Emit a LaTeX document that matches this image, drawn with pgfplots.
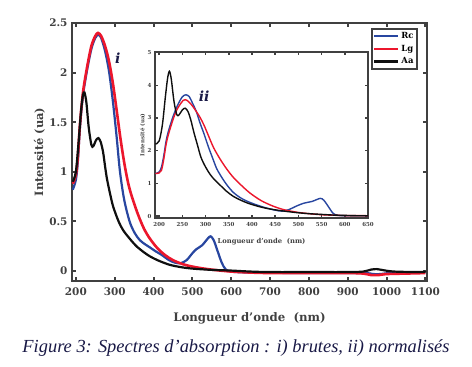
\documentclass[border=0pt]{standalone}
\usepackage{fontspec}
\usepackage{pgfplots}
\pgfplotsset{compat=1.18}
\usetikzlibrary{calc}
\newfontfamily\capfont{Liberation Serif}
\newfontfamily\lbl{DejaVu Serif}
\definecolor{cRc}{RGB}{40,70,160}
\definecolor{cLg}{RGB}{236,22,44}
\definecolor{cAa}{RGB}{15,15,15}
\definecolor{frame}{RGB}{64,64,64}
\definecolor{navy}{RGB}{25,25,70}

\begin{document}
\begin{tikzpicture}
\begin{axis}[name=main, scale only axis, width=355bp, height=258bp,
  xmin=190, xmax=1104, ymin=-0.1, ymax=2.5,
  xtick={200,300,400,500,600,700,800,900,1000,1100},
  ytick={0,0.5,1,1.5,2,2.5},
  /pgf/number format/1000 sep={},
  /pgf/number format/assume math mode=true,
  scaled ticks=false,
  tick align=inside, major tick length=4bp,
  every tick/.style={frame, line width=2bp},
  axis line style={frame, line width=2.4bp},
  ticklabel style={font=\lbl\bfseries\fontsize{10.5}{12}\selectfont, text=frame},
  xticklabel style={yshift=-3bp},
  yticklabel style={xshift=-1bp},
  xlabel={Longueur d’onde~~(nm)},
  ylabel={Intensité (ua)},
  xlabel style={at={(axis description cs:0.5,-0.145)}, anchor=center, font=\lbl\bfseries\fontsize{11.8}{13}\selectfont, text=frame},
  ylabel style={at={(axis description cs:-0.092,0.5)}, anchor=center, rotate=0, font=\lbl\bfseries\fontsize{11.5}{13}\selectfont, text=frame},
  legend style={at={(0.975,0.981)}, anchor=north east, draw=frame, line width=2bp,
     font=\lbl\bfseries\fontsize{8.5}{10}\selectfont, inner sep=1.5pt, row sep=1pt},
  legend cell align=left,
  legend image code/.code={\draw[#1, line width=2.4bp] (0bp,0bp) -- (24bp,0bp);},
]
\addplot[cRc, line width=2.2bp, smooth, tension=0.5] coordinates {
(192,0.82) (200,0.92) (205,1.1) (210,1.42) (215,1.65) (220,1.82) (230,2.05) (240,2.24) (250,2.35) (258,2.38) (265,2.35) (275,2.22) (285,2.02) (295,1.72) (305,1.35) (313,1.02) (322,0.77) (330,0.62) (340,0.48) (352,0.38) (365,0.31) (380,0.265) (390,0.24) (405,0.2) (420,0.165) (440,0.11) (455,0.085) (470,0.08) (485,0.11) (500,0.18) (510,0.22) (525,0.26) (540,0.33) (547,0.35) (555,0.31) (565,0.2) (575,0.09) (585,0.02) (600,-0.005) (650,-0.015) (800,-0.02) (940,-0.02) (965,-0.03) (985,-0.03) (1010,-0.02) (1100,-0.015)};
\addlegendentry{Rc}
\addplot[cLg, line width=2.6bp, smooth, tension=0.5] coordinates {
(192,0.88) (200,0.97) (205,1.15) (210,1.45) (215,1.68) (220,1.85) (230,2.08) (240,2.27) (250,2.37) (257,2.40) (265,2.37) (275,2.27) (285,2.12) (295,1.90) (305,1.62) (315,1.33) (325,1.08) (335,0.88) (345,0.74) (360,0.57) (375,0.43) (390,0.33) (410,0.23) (430,0.16) (450,0.11) (475,0.07) (500,0.045) (530,0.025) (560,0.01) (600,-0.005) (650,-0.015) (700,-0.02) (800,-0.02) (900,-0.02) (940,-0.025) (960,-0.04) (980,-0.04) (1000,-0.03) (1050,-0.025) (1100,-0.02)};
\addlegendentry{Lg}
\addplot[cAa, line width=2.2bp, smooth, tension=0.5] coordinates {
(192,0.9) (200,1.0) (207,1.3) (213,1.6) (218,1.77) (222,1.80) (227,1.7) (233,1.45) (240,1.27) (245,1.26) (252,1.32) (258,1.34) (264,1.3) (270,1.2) (275,1.06) (280,0.93) (288,0.78) (296,0.65) (310,0.5) (322,0.41) (340,0.32) (356,0.25) (375,0.19) (390,0.15) (410,0.11) (440,0.065) (470,0.04) (500,0.025) (550,0.012) (600,0.005) (650,-0.005) (700,-0.01) (800,-0.01) (900,-0.01) (940,-0.005) (960,0.015) (975,0.02) (990,0.01) (1020,-0.005) (1090,-0.01) (1100,0.0)};
\addlegendentry{Aa}
\node[font=\lbl\bfseries\itshape\fontsize{14}{14}\selectfont, text=navy] at (axis cs:308,2.15) {i};
\end{axis}

\begin{axis}[name=inset, at={($(main.south west)+(83bp,63bp)$)}, anchor=south west,
  scale only axis, width=213bp, height=166bp,
  xmin=191, xmax=650, ymin=-0.06, ymax=5.02,
  xtick={200,250,300,350,400,450,500,550,600,650},
  ytick={0,1,2,3,4,5},
  /pgf/number format/assume math mode=true,
  axis background/.style={fill=white},
  tick align=inside, major tick length=3bp,
  every tick/.style={frame, line width=1.5bp},
  axis line style={frame, line width=1.8bp},
  ticklabel style={font=\lbl\bfseries\fontsize{5.5}{7}\selectfont, text=frame},
  xticklabel style={yshift=-1bp},
  xlabel={Longueur d’onde~~(nm)},
  ylabel={Intensité (ua)},
  xlabel style={at={(axis description cs:0.5,-0.145)}, anchor=center, font=\lbl\bfseries\fontsize{6.8}{8}\selectfont, text=frame},
  ylabel style={at={(axis description cs:-0.058,0.5)}, anchor=center, font=\lbl\bfseries\fontsize{5.5}{7}\selectfont, text=frame},
]
\addplot[cRc, line width=1.4bp, smooth, tension=0.5] coordinates {
(192,1.3) (200,1.35) (205,1.5) (210,1.85) (215,2.3) (220,2.6) (230,3.05) (240,3.4) (250,3.65) (258,3.71) (265,3.65) (272,3.45) (280,3.2) (288,2.85) (297,2.5) (306,2.12) (315,1.78) (324,1.45) (335,1.18) (346,0.95) (360,0.72) (375,0.56) (390,0.45) (410,0.34) (430,0.25) (450,0.18) (465,0.15) (480,0.2) (495,0.3) (511,0.39) (530,0.45) (547,0.54) (555,0.48) (565,0.28) (575,0.08) (585,0.02) (600,0.01) (650,0.01)};
\addplot[cLg, line width=1.4bp, smooth, tension=0.5] coordinates {
(192,1.3) (200,1.32) (205,1.4) (210,1.75) (215,2.2) (220,2.5) (231,3.0) (240,3.3) (252,3.54) (260,3.54) (270,3.4) (280,3.2) (288,3.02) (296,2.8) (305,2.5) (317,2.1) (331,1.75) (345,1.45) (360,1.18) (380,0.9) (396,0.7) (420,0.47) (446,0.3) (470,0.19) (500,0.11) (525,0.07) (550,0.04) (575,0.025) (600,0.015) (650,0.01)};
\addplot[cAa, line width=1.4bp, smooth, tension=0.5] coordinates {
(192,2.2) (200,2.3) (207,2.8) (213,3.6) (218,4.2) (222,4.43) (226,4.2) (232,3.5) (238,3.1) (243,3.1) (250,3.25) (256,3.3) (262,3.2) (268,2.95) (275,2.55) (282,2.2) (290,1.8) (300,1.5) (310,1.27) (320,1.1) (331,0.95) (345,0.76) (360,0.6) (375,0.49) (390,0.4) (410,0.31) (430,0.24) (450,0.19) (475,0.14) (500,0.1) (525,0.07) (550,0.05) (575,0.03) (600,0.02) (625,0.01) (650,0.01)};
\node[font=\lbl\bfseries\itshape\fontsize{14}{14}\selectfont, text=navy] at (axis cs:297,3.66) {ii};
\end{axis}

\node[font=\capfont\itshape\fontsize{18.5}{20}\selectfont, text=navy] at ($(main.south west)+(164bp,-67bp)$) {Figure 3: Spectres d’absorption : i) brutes, ii) normalisés};
\pgfresetboundingbox
\useasboundingbox ($(main.south west)+(-72bp,-86bp)$) rectangle ++(472bp,367bp);
\end{tikzpicture}
\end{document}
